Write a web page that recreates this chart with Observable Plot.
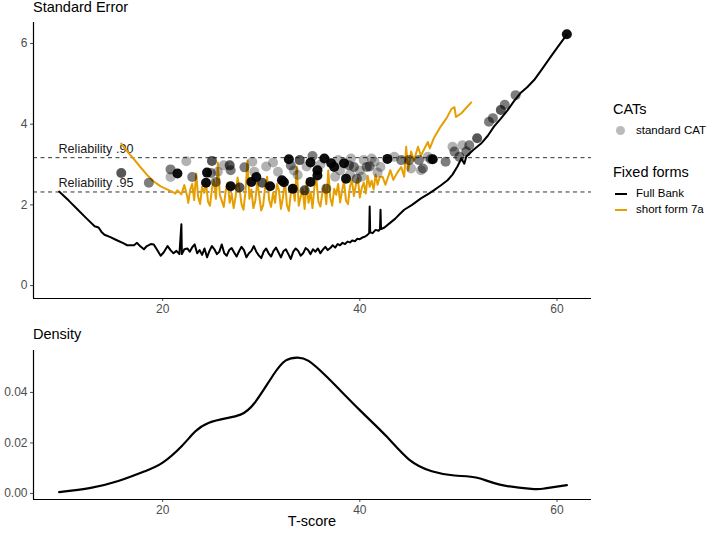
<!DOCTYPE html>
<html>
<head>
<meta charset="utf-8">
<script src="https://cdn.jsdelivr.net/npm/d3@7"></script>
<script src="https://cdn.jsdelivr.net/npm/@observablehq/plot@0.6"></script>
<style>
  body { margin: 0; background: #fff; font-family: "Liberation Sans", Arial, sans-serif; }
  #wrap { position: relative; width: 709px; height: 533px; overflow: hidden; background: #fff; }
  .abs { position: absolute; white-space: nowrap; line-height: 1; }
  .ttl { font-size: 14.5px; color: #000; }
  .lt { font-size: 11.5px; color: #000; }
  #top, #bottom { position: absolute; left: 0; }
  #top { top: 0; }
  #bottom { top: 320px; }
</style>
</head>
<body>
<div id="wrap">
  <div id="top"></div>
  <div id="bottom"></div>
  <div class="abs ttl" style="left:33px; top:0px;">Standard Error</div>
  <div class="abs ttl" style="left:33px; top:327px;">Density</div>
  <div class="abs ttl" style="left:312px; top:514px; transform:translateX(-50%);">T-score</div>
  <div id="legend"></div>
</div>
<script>
// ---------- data ----------
const relLabels = ["Reliability .90", "Reliability .95"];
const relSE = [3.17, 2.32];

// Full Bank standard error curve: [T-score, SE]
const fullBankX = [9.5,10.5,11.4,12.3,13.1,13.5,13.8,14.1,14.7,15.3,16.0,16.4,17.1,17.4,17.7,18.1,18.4,18.8,19.1,19.4,19.8,20.1,20.5,20.8,21.1,21.4,21.7,21.9,21.95,22.2,
  22.5,22.75,23.0,23.25,23.5,23.75,24.0,24.25,24.5,24.75,25.0,25.25,25.5,25.75,26.0,26.25,26.5,26.75,27.0,27.25,27.5,27.75,28.0,28.25,28.5,28.75,29.0,29.25,29.5,29.75,
  30.0,30.25,30.5,30.75,31.0,31.25,31.5,31.75,32.0,32.25,32.5,32.75,33.0,33.25,33.5,33.75,34.0,34.25,34.5,34.75,35.0,35.25,35.5,35.75,36.0,36.25,36.5,36.75,37.0,37.25,37.5,37.75,38.0,
  38.25,38.5,38.75,39.0,39.25,39.5,39.75,40.0,40.25,40.5,40.75,40.95,41.0,41.05,41.3,41.6,41.9,42.05,42.1,42.15,42.5,43.1,43.6,44.0,44.5,45.3,46.2,47.0,47.5,48.2,48.9,49.4,49.9,50.3,50.6,50.8,51.5,52.3,53.0,53.6,54.3,55.0,55.6,56.3,57.0,57.7,58.5,59.3,60.1,61.0];
const fullBankSE = [2.33,2.10,1.88,1.66,1.47,1.44,1.33,1.26,1.20,1.13,1.05,1.00,1.00,1.06,0.98,0.90,0.98,1.03,1.02,0.90,0.74,0.82,0.98,0.88,0.80,0.86,0.78,1.52,0.78,0.90,
  0.92,0.84,0.95,1.02,0.80,0.88,0.76,0.92,0.70,0.86,0.98,0.90,0.78,0.84,1.02,0.80,0.74,0.88,0.93,0.82,0.72,0.85,0.96,0.88,0.70,0.80,0.86,0.98,0.84,0.75,
  0.68,0.84,0.92,0.80,0.72,0.86,0.94,0.82,0.70,0.85,0.90,0.78,0.66,0.84,0.92,0.86,0.74,0.80,0.93,0.88,0.78,0.90,0.84,0.92,0.80,0.89,0.96,0.88,0.93,1.00,0.94,1.03,1.00,
  1.06,1.03,1.09,1.07,1.12,1.10,1.16,1.15,1.19,1.21,1.25,1.30,1.96,1.32,1.30,1.38,1.36,1.40,1.88,1.40,1.44,1.56,1.66,1.76,1.88,2.00,2.16,2.28,2.36,2.48,2.61,2.75,2.95,3.15,3.02,3.20,3.36,3.52,3.72,3.94,4.14,4.35,4.56,4.77,4.92,5.10,5.37,5.65,5.92,6.22];

// Short form 7a standard error curve
const shortFormX = [15.8,16.5,17.2,17.8,18.5,19.1,19.8,20.5,21.0,21.3,21.5,21.9,22.2,22.5,
  22.6,22.8,23.0,23.2,23.4,23.6,23.8,24.0,24.2,24.4,24.6,24.8,25.0,25.2,25.4,25.6,25.8,26.0,26.2,26.4,26.6,26.8,27.0,27.2,27.4,27.6,27.8,28.0,28.2,28.4,28.6,28.8,
  29.0,29.2,29.4,29.6,29.8,30.0,30.2,30.4,30.6,30.8,31.0,31.2,31.4,31.6,31.8,32.0,32.2,32.4,32.6,32.8,33.0,33.2,33.4,33.6,33.8,34.0,34.2,34.4,34.6,34.8,
  35.0,35.2,35.4,35.6,35.8,36.0,36.2,36.4,36.6,36.8,37.0,37.2,37.4,37.6,37.8,38.0,38.2,38.4,38.6,38.8,39.0,39.2,39.4,39.6,39.8,40.0,40.2,40.4,40.6,40.8,
  41.0,41.2,41.4,41.6,41.8,42.0,42.3,42.6,43.1,43.4,43.8,44.2,44.5,44.7,44.9,45.2,45.5,45.9,46.2,46.4,46.9,47.1,47.5,48.2,48.8,49.3,49.6,49.75,50.3,51.3];
const shortFormSE = [3.52,3.30,3.10,2.92,2.72,2.58,2.46,2.38,2.32,2.28,2.36,2.26,2.49,2.20,
  2.05,2.38,2.52,2.12,2.78,2.20,2.02,2.45,2.30,2.55,2.08,1.98,2.40,2.62,2.15,3.05,2.25,2.10,1.95,2.35,2.55,2.05,2.28,1.92,2.20,2.68,2.40,2.02,1.88,2.32,3.10,2.15,
  2.38,1.92,2.10,2.58,2.22,1.86,2.00,2.45,2.70,2.12,1.95,2.30,2.05,2.52,2.36,1.90,2.18,2.62,2.00,1.85,2.28,2.48,2.10,2.95,1.98,2.20,2.40,1.90,2.55,2.05,
  2.32,1.92,2.45,2.62,2.08,1.96,2.30,2.50,2.02,2.85,2.18,1.98,2.40,2.25,2.52,2.06,2.35,2.58,2.10,2.02,2.45,2.62,2.22,2.50,2.66,2.18,2.42,2.55,2.28,2.72,
  2.45,2.60,2.38,2.75,2.50,2.68,2.70,2.50,2.86,2.62,2.80,2.94,2.70,3.44,2.85,3.32,3.10,3.44,3.22,3.32,3.56,3.40,3.65,3.94,4.15,4.38,4.42,4.18,4.27,4.54];

// standard CAT results: T-score, SE, number of overlapping respondents
const catX = [15.8,18.6,20.8,21.5,20.8,22.4,23.0,24.5,24.4,25.0,25.4,24.9,25.6,26.2,26.8,26.9,26.9,27.8,28.3,29.1,29.0,29.5,29.3,30.1,30.9,31.7,32.1,32.3,32.8,33.2,
  33.0,33.3,33.9,33.7,34.4,35.0,35.0,35.2,35.7,35.7,36.4,36.6,37.1,37.4,37.8,38.4,38.6,39.1,39.4,39.7,40.4,40.7,41.5,41.8,42.8,42.1,43.5,44.2,45.0,45.2,
  46.0,46.4,46.2,46.9,47.4,47.2,48.7,49.4,49.6,50.1,50.4,50.8,51.1,51.9,53.1,53.5,54.3,54.7,55.8,61.0,
  36.0,38.0,39.0,40.0,41.0,41.2,37.5,38.9,40.2,34.6,31.2,30.5];
const catSE = [2.79,2.55,2.88,2.78,2.69,3.08,2.69,2.80,2.55,3.09,2.57,2.79,2.82,2.98,2.98,2.86,2.46,2.43,2.93,3.07,2.57,2.69,2.82,2.55,2.46,2.82,2.61,2.56,3.13,2.40,
  2.98,2.85,3.11,2.74,2.36,3.05,2.57,3.21,2.86,2.73,3.15,2.40,3.03,2.94,3.11,3.03,2.65,3.15,2.94,2.65,3.11,2.94,3.07,2.80,3.14,2.94,3.19,3.11,3.11,2.90,
  3.11,2.90,2.86,3.19,3.13,3.13,3.07,3.44,3.32,3.19,3.48,3.32,3.48,3.65,4.06,4.15,4.35,4.48,4.72,6.23,
  3.00,2.85,2.75,2.85,2.95,3.15,2.70,2.98,2.70,2.95,3.05,2.95];
const catN = [3,2,2,8,1,1,2,8,8,3,2,2,1,1,3,2,8,3,2,1,8,8,1,3,8,1,8,8,8,8,
  2,1,3,1,3,8,8,2,8,8,8,2,8,8,1,8,8,1,2,2,1,2,1,1,8,1,1,2,2,1,
  2,2,1,1,8,2,2,1,2,2,1,2,2,3,2,2,3,2,2,8,
  1,1,1,1,2,1,1,2,1,1,1,1];

// density of T-scores
const densX = [9.5,12.7,15.5,18.2,20.0,21.9,23.3,24.7,26.5,27.9,29.3,31.2,32.5,33.7,34.8,36.7,40.0,42.7,45.0,47.3,49.6,51.9,54.2,57.4,58.8,61.0];
const densY = [0.0005,0.0022,0.0049,0.0088,0.0122,0.0186,0.0245,0.0280,0.0298,0.0312,0.0357,0.0468,0.0527,0.0538,0.0525,0.0460,0.0330,0.0226,0.0134,0.0088,0.0071,0.0062,0.0035,0.0018,0.0020,0.0033];

const xTicks = [20, 40, 60];
const seTicks = [0, 2, 4, 6];
const densTicks = [0, 0.02, 0.04];

// ---------- build tables ----------
const fullBank = fullBankX.map((x, i) => ({x, se: fullBankSE[i]}));
const shortForm = shortFormX.map((x, i) => ({x, se: shortFormSE[i]}));
const cats = catX.map((x, i) => ({x, se: catSE[i], n: catN[i]}));
const rel = relLabels.map((label, i) => ({label, se: relSE[i]}));
const dens = densX.map((x, i) => ({x, d: densY[i]}));

const xDomain = [6.9, 63.5];
const yDomain = [-0.32, 6.52];
const dDomain = [-0.0024, 0.0566];
const ORANGE = "#E69F00";
const font = "'Liberation Sans', Arial, sans-serif";

const topPlot = Plot.plot({
  width: 600, height: 320,
  marginLeft: 33, marginRight: 9, marginTop: 22, marginBottom: 22,
  style: {fontFamily: font, fontSize: "12px", color: "#4d4d4d", background: "transparent", overflow: "visible"},
  x: {domain: xDomain, ticks: xTicks, tickSize: 3, tickPadding: 3, label: null},
  y: {domain: yDomain, ticks: seTicks, tickSize: 3, tickPadding: 3, tickFormat: d3.format("d"), label: null},
  marks: [
    Plot.ruleY(rel, {y: "se", stroke: "#333", strokeWidth: 1, strokeDasharray: "4,3.5"}),
    Plot.text(rel, {y: "se", text: "label", frameAnchor: "left", textAnchor: "start", dx: 25, dy: -9, fill: "#1a1a1a", fontSize: 12.6}),
    Plot.line(fullBank, {x: "x", y: "se", stroke: "black", strokeWidth: 2}),
    Plot.line(shortForm, {x: "x", y: "se", stroke: ORANGE, strokeWidth: 2}),
    Plot.dot(cats, {x: "x", y: "se", r: 5, fill: "black", stroke: "none", fillOpacity: d => 1 - Math.pow(0.7, d.n)}),
    Plot.ruleX([xDomain[0]], {stroke: "black", strokeWidth: 1.2}),
    Plot.ruleY([yDomain[0]], {stroke: "black", strokeWidth: 1.2})
  ]
});
document.getElementById("top").appendChild(topPlot);

const bottomPlot = Plot.plot({
  width: 600, height: 213,
  marginLeft: 33, marginRight: 9, marginTop: 30, marginBottom: 34,
  style: {fontFamily: font, fontSize: "12px", color: "#4d4d4d", background: "transparent", overflow: "visible"},
  x: {domain: xDomain, ticks: xTicks, tickSize: 3, tickPadding: 3, label: null},
  y: {domain: dDomain, ticks: densTicks, tickSize: 3, tickPadding: 3, tickFormat: d3.format(".2f"), label: null},
  marks: [
    Plot.line(dens, {x: "x", y: "d", stroke: "black", strokeWidth: 2.2, curve: "natural"}),
    Plot.ruleX([xDomain[0]], {stroke: "black", strokeWidth: 1.2}),
    Plot.ruleY([dDomain[0]], {stroke: "black", strokeWidth: 1.2})
  ]
});
document.getElementById("bottom").appendChild(bottomPlot);

// ---------- legend ----------
const legendCat = ["standard CAT"];
const legendForms = [{label: "Full Bank", color: "black"}, {label: "short form 7a", color: ORANGE}];
const lg = document.getElementById("legend");
let html = `<div class="abs ttl" style="left:613px; top:102px;">CATs</div>`;
legendCat.forEach((t, i) => {
  html += `<div class="abs" style="left:616px; top:${126 + i*16}px; width:9px; height:9px; border-radius:50%; background:rgba(0,0,0,0.27);"></div>`;
  html += `<div class="abs lt" style="left:636px; top:${125 + i*16}px;">${t}</div>`;
});
html += `<div class="abs ttl" style="left:613px; top:165px;">Fixed forms</div>`;
legendForms.forEach((f, i) => {
  html += `<div class="abs" style="left:615px; top:${193 + i*16}px; width:12px; height:2px; background:${f.color};"></div>`;
  html += `<div class="abs lt" style="left:636px; top:${188 + i*16}px;">${f.label}</div>`;
});
lg.innerHTML = html;
</script>
</body>
</html>
